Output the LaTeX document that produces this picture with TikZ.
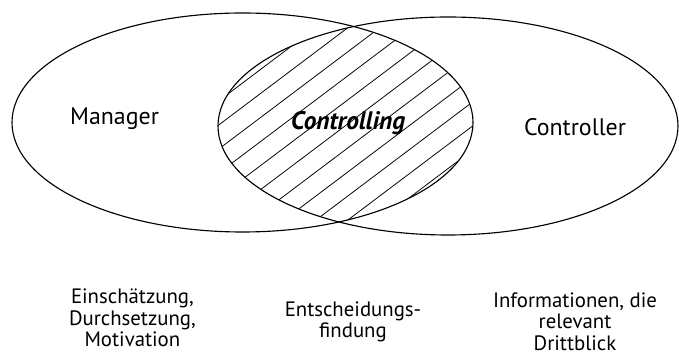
\documentclass[tikz,border=0pt]{standalone}
\usepackage{fontspec}
\setmainfont{PT Sans}

\begin{document}
\begin{tikzpicture}[
    ring/.style={line width=0.8pt},
    hatchline/.style={line width=0.55pt},
    lbl/.style={font=\fontsize{17}{20}\selectfont, anchor=base},
    note/.style={font=\fontsize{14.8}{15.4}\selectfont, align=center, anchor=base}
]
    \useasboundingbox (0,0) rectangle (16.975,8.9);

    % Hatching of the overlap
    \begin{scope}
        \clip (6.0625,5.8375) ellipse (5.7625 and 2.7375);
        \clip (11.2,5.75) ellipse (5.75 and 2.725);
        \foreach \k in {-7,...,7} {
            \pgfmathsetmacro{\yy}{5.825+\k*0.48-0.06}
            \draw[hatchline, rotate around={37:(8.625,5.825)}] (4.6,\yy) -- (12.6,\yy);
        }
    \end{scope}

    % Sets
    \draw[ring] (6.0625,5.8375) ellipse (5.7625 and 2.7375);
    \draw[ring] (11.2,5.75) ellipse (5.75 and 2.725);

    % Labels
    \node[lbl] (manager) at (2.8625,5.775) {Manager};
    \node[lbl, font=\fontsize{18}{20}\selectfont\bfseries\itshape] (controlling) at (8.7,5.65) {Controlling};
    \node[lbl] (controller) at (14.375,5.5) {Controller};

    % Tasks below (base = last line)
    \node[note] (manTasks) at (3.31,0.225) {Einschätzung,\\Durchsetzung,\\Motivation};
    \node[note] (ctrlTasks) at (8.825,0.45) {Entscheidungs-\\findung};
    \node[note, inner sep=1pt] (conTasks) at (14.375,0.14) {Informationen, die\\relevant\\Drittblick};
\end{tikzpicture}
\end{document}
